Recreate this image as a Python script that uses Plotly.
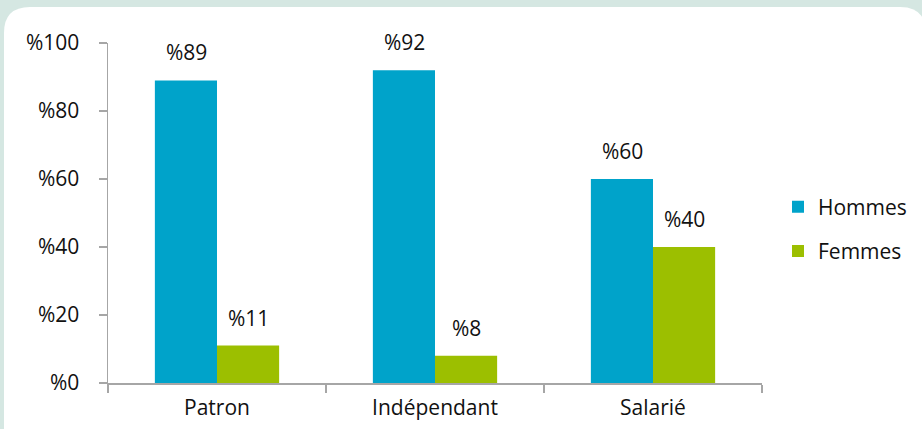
import plotly.graph_objects as go

categories = ["Patron", "Indépendant", "Salarié"]
hommes = [89, 92, 60]
femmes = [11, 8, 40]
series_names = ["Hommes", "Femmes"]
y_tickvals = [0, 20, 40, 60, 80, 100]
y_ticktext = ["%0", "%20", "%40", "%60", "%80", "%100"]

W, H = 922, 429
L, R, T, B = 108, 160, 43, 46
PW, PH = W - L - R, H - T - B

def px(x):
    return (x - L) / PW

def py(y):
    return (H - B - y) / PH

FONT = "Open Sans"
COL_H = "#00A3CA"
COL_F = "#9CBF00"
AX = "#A6A6A6"

fig = go.Figure()
fig.add_trace(go.Bar(x=categories, y=hommes, name=series_names[0],
                     marker=dict(color=COL_H, line=dict(width=0)),
                     legendgroup="h"))
fig.add_trace(go.Bar(x=categories, y=femmes, name=series_names[1],
                     marker=dict(color=COL_F, line=dict(width=0)),
                     legendgroup="f"))

annotations = []
for vals, shift in ((hommes, -31), (femmes, 31)):
    for c, v in zip(categories, vals):
        annotations.append(dict(x=c, y=v, xref="x", yref="y", text="%" + str(v),
                                showarrow=False, xshift=shift, yshift=12,
                                yanchor="bottom",
                                font=dict(family=FONT, size=21, color="#111111")))

# white rounded panel
l, t, r, b, rad = 4, 7, 926, 445, 26
path = (f"M {px(l)},{py(t+rad)} Q {px(l)},{py(t)} {px(l+rad)},{py(t)} "
        f"L {px(r-rad)},{py(t)} Q {px(r)},{py(t)} {px(r)},{py(t+rad)} "
        f"L {px(r)},{py(b)} L {px(l)},{py(b)} Z")

fig.update_layout(
    width=W, height=H,
    margin=dict(l=L, r=R, t=T, b=B, pad=0, autoexpand=False),
    paper_bgcolor="#D5E7E2",
    plot_bgcolor="rgba(0,0,0,0)",
    barmode="group", bargap=0.43, bargroupgap=0,
    font=dict(family=FONT, size=21, color="#111111"),
    shapes=[dict(type="path", path=path, xref="paper", yref="paper",
                 fillcolor="white", line=dict(width=0), layer="below")],
    annotations=annotations,
    legend=dict(x=px(778), y=py(229), xanchor="left", yanchor="middle",
                font=dict(family=FONT, size=21), tracegroupgap=14,
                bgcolor="rgba(0,0,0,0)", itemwidth=30),
    xaxis=dict(showline=True, linecolor=AX, linewidth=1.5, ticks="outside",
               tickson="boundaries", ticklen=8, tickcolor=AX, tickwidth=1.5,
               showgrid=False, tickfont=dict(family=FONT, size=21),
               ticklabelstandoff=5, fixedrange=True, automargin=False),
    yaxis=dict(range=[0, 100], tickvals=y_tickvals, ticktext=y_ticktext,
               showline=True, linecolor=AX, linewidth=1.5, ticks="outside",
               ticklen=8, tickcolor=AX, tickwidth=1.5, showgrid=False,
               zeroline=False, ticklabelstandoff=15, automargin=False,
               fixedrange=True, tickfont=dict(family=FONT, size=21)),
)

fig.write_html("out.html", config={"displayModeBar": False, "staticPlot": True},
               post_script="document.body.style.margin='0';document.body.style.overflow='hidden';")
